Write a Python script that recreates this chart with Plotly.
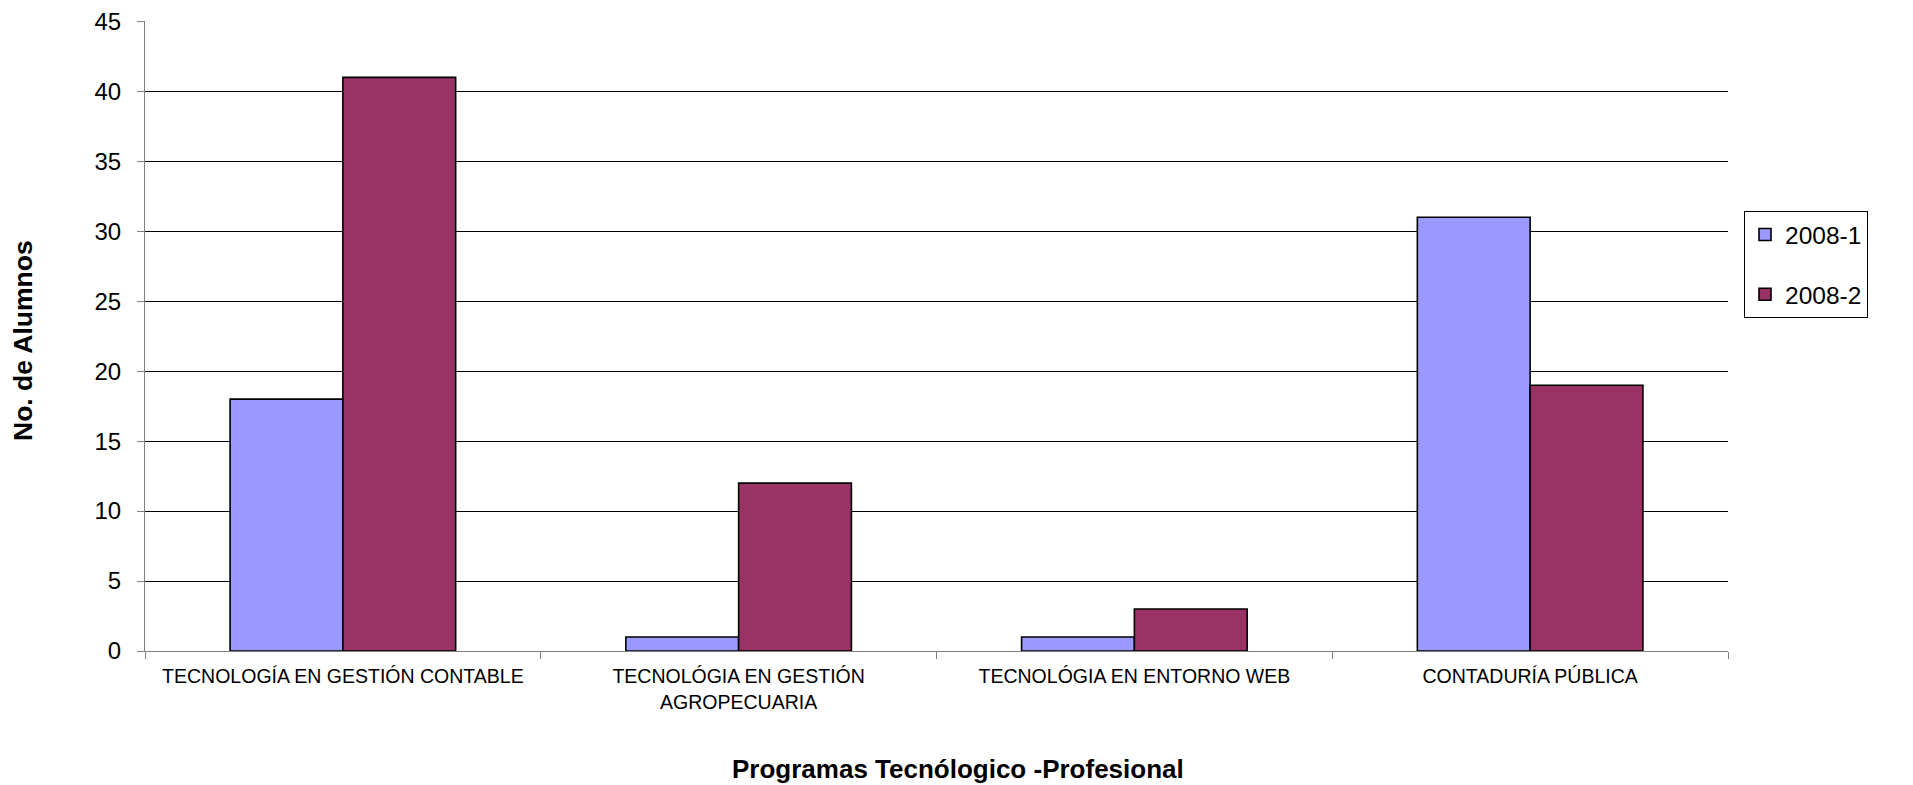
import plotly.graph_objects as go

categories = [
    "TECNOLOGÍA EN GESTIÓN CONTABLE",
    "TECNOLÓGIA EN GESTIÓN<br>AGROPECUARIA",
    "TECNOLÓGIA EN ENTORNO WEB",
    "CONTADURÍA PÚBLICA",
]
series_names = ["2008-1", "2008-2"]
values_2008_1 = [18, 1, 1, 31]
values_2008_2 = [41, 12, 3, 19]
colors = ["#9999FF", "#993366"]
y_ticks = [0, 5, 10, 15, 20, 25, 30, 35, 40, 45]

FONT = "Liberation Sans, Arial, sans-serif"

fig = go.Figure()
for name, vals, col in zip(series_names, [values_2008_1, values_2008_2], colors):
    fig.add_trace(go.Bar(
        x=categories, y=vals, name=name, legendgroup=name,
        marker=dict(color=col, line=dict(color="#000000", width=1.6)),
    ))

W, H = 1913, 785
# page has an 8px body margin; these are figure coordinates
PL, PR, PT, PB = 137, 1720, 13, 643
L, R, T, B = PL, W - PR, PT, H - PB
pw, ph = W - L - R, H - T - B

fig.update_layout(
    width=W, height=H,
    margin=dict(l=L, r=R, t=T, b=B, autoexpand=False),
    paper_bgcolor="white", plot_bgcolor="white",
    barmode="group", bargap=0.43, bargroupgap=0,
    font=dict(family=FONT, color="#000000"),
    showlegend=True,
    legend=dict(
        x=(1736 - L) / pw, y=(PB - 203) / ph, xanchor="left", yanchor="top",
        bordercolor="#000000", borderwidth=1, bgcolor="white",
        font=dict(size=24.5, family=FONT), tracegroupgap=25,
        itemwidth=30,
    ),
    xaxis=dict(
        showgrid=False, showline=True, linecolor="#808080", linewidth=1,
        ticks="outside", tickson="boundaries", ticklen=7, tickcolor="#808080",
        tickfont=dict(size=19.5, family=FONT), automargin=False,
        ticklabelstandoff=8,
    ),
    yaxis=dict(
        range=[0, 45.03], tickvals=y_ticks, showgrid=True, gridcolor="#000000", gridwidth=1,
        showline=True, linecolor="#808080", linewidth=1,
        ticks="outside", ticklen=7, tickcolor="#808080",
        tickfont=dict(size=24, family=FONT), automargin=False, zeroline=False,
        ticklabelstandoff=11, ticklabeloverflow="allow",
    ),
    annotations=[
        dict(text="<b>No. de Alumnos</b>", xref="paper", yref="paper",
             x=(15 - L) / pw, y=(PB - 333) / ph, textangle=-90, showarrow=False,
             font=dict(size=26.5, family=FONT), xanchor="center", yanchor="middle"),
        dict(text="<b>Programas Tecnólogico -Profesional</b>", xref="paper", yref="paper",
             x=(950 - L) / pw, y=(PB - 761) / ph, showarrow=False,
             font=dict(size=26, family=FONT), xanchor="center", yanchor="middle"),
    ],
)

fig.write_html("out.html")
